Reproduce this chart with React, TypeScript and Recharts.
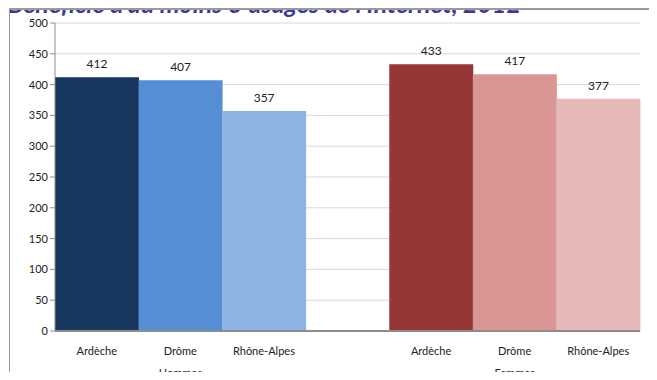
import { BarChart, Bar, XAxis, YAxis, CartesianGrid, Cell, LabelList } from "recharts";

const categories = ["Ardèche", "Drôme", "Rhône-Alpes", "", "Ardèche", "Drôme", "Rhône-Alpes"];
const groups = ["Hommes", "Hommes", "Hommes", "", "Femmes", "Femmes", "Femmes"];
const values = [412, 407, 357, null, 433, 417, 377];
const colors = ["#17375E", "#558ED5", "#8EB4E3", "#ffffff", "#953735", "#D99694", "#E6B9B8"];
const yTicks = [0, 50, 100, 150, 200, 250, 300, 350, 400, 450, 500];

const data = categories.map((c, i) => ({ id: i, name: c, group: groups[i], value: values[i] }));

const FONT = "Lato, 'Noto Sans', sans-serif";

function XTick(props: any) {
  const { x, y, payload } = props;
  const i = payload.value as number;
  const row = data[i];
  // group label sits under the middle bar of each group
  const showGroup = row && row.group && (i === 1 || i === 5);
  return (
    <g>
      <text x={x} y={y + 16} textAnchor="middle" fontSize={11} fill="#222" fontFamily={FONT}>
        {row ? row.name : ""}
      </text>
      {showGroup && (
        <text x={x} y={y + 38} textAnchor="middle" fontSize={11} fill="#222" fontFamily={FONT}>
          {row.group}
        </text>
      )}
    </g>
  );
}

export default function App() {
  return (
    <div style={{ margin: -8, width: 657, height: 380, position: "relative", overflow: "hidden", background: "#fff" }}>
      <div
        style={{
          position: "absolute",
          left: 8,
          top: -4,
          fontFamily: FONT,
          fontSize: 25,
          lineHeight: "15px",
          fontWeight: 700,
          fontStyle: "italic",
          color: "#3C3A98",
          whiteSpace: "nowrap",
        }}
      >
        Bénéficie d'au moins 3 usages de l'Internet, 2012
      </div>
      {/* chart frame: only top and left edges are visible */}
      <div style={{ position: "absolute", left: 9, top: 8, width: 648, height: 2, background: "#9a9a9a" }} />
      <div style={{ position: "absolute", left: 9, top: 8, width: 1, height: 372, background: "#9a9a9a" }} />
      <div style={{ position: "absolute", left: 0, top: 0 }}>
        <BarChart
          width={657}
          height={380}
          data={data}
          margin={{ top: 23, right: 17, bottom: 0, left: 8 }}
          barCategoryGap={0}
        >
          <CartesianGrid vertical={false} stroke="#d9d9d9" />
          <XAxis
            dataKey="id"
            type="category"
            height={49}
            tick={<XTick />}
            tickLine={false}
            axisLine={{ stroke: "#8c8c8c", strokeWidth: 2 }}
            interval={0}
          />
          <YAxis
            type="number"
            domain={[0, 500]}
            ticks={yTicks}
            width={47}
            tickSize={5}
            tickLine={{ stroke: "#8c8c8c" }}
            axisLine={{ stroke: "#8c8c8c" }}
            tick={{ fontSize: 11, fill: "#222", fontFamily: FONT }}
          />
          <Bar dataKey="value" isAnimationActive={false}>
            {data.map((d, i) => (
              <Cell key={d.id} fill={colors[i]} />
            ))}
            <LabelList dataKey="value" position="top" offset={9} fontSize={12} fill="#222" fontFamily={FONT} />
          </Bar>
        </BarChart>
      </div>
    </div>
  );
}
